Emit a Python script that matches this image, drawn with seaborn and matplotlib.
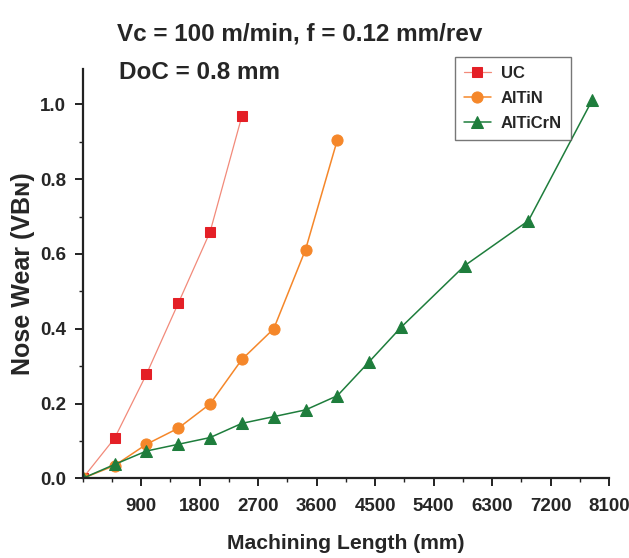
import matplotlib
matplotlib.use("Agg")
import matplotlib.pyplot as plt
import seaborn as sns
from matplotlib.ticker import MultipleLocator, AutoMinorLocator, FormatStrFormatter

# machining length (mm) and nose wear values
uc_len = [0, 490, 980, 1470, 1960, 2450]
uc_wear = [0, 0.107, 0.278, 0.468, 0.659, 0.969]

altin_len = [0, 490, 980, 1470, 1960, 2450, 2940, 3430, 3920]
altin_wear = [0, 0.034, 0.091, 0.134, 0.199, 0.318, 0.400, 0.612, 0.906]

altcrn_len = [0, 490, 980, 1470, 1960, 2450, 2940, 3430, 3920, 4410, 4900, 5880, 6860, 7840]
altcrn_wear = [0, 0.037, 0.073, 0.091, 0.109, 0.147, 0.165, 0.183, 0.221,
               0.312, 0.404, 0.569, 0.689, 1.011]

x_ticks = [900, 1800, 2700, 3600, 4500, 5400, 6300, 7200, 8100]

sns.set_style("ticks")
fonts = ["Liberation Sans", "DejaVu Sans"]
plt.rcParams["font.family"] = fonts
plt.rcParams["font.weight"] = "bold"

fig = plt.figure(figsize=(6.29, 5.58), dpi=100)
ax = fig.add_axes([0.1315, 0.1428, 0.8367, 0.7330])

# UC: light red line, red square markers
sns.lineplot(x=uc_len, y=uc_wear, ax=ax, color="#f28a7a", lw=0.9,
             marker="s", markersize=6.5, markerfacecolor="#e41f26",
             markeredgecolor="#e41f26", label="UC")
sns.lineplot(x=altin_len, y=altin_wear, ax=ax, color="#f5872a", lw=1.1,
             marker="o", markersize=8, markerfacecolor="#f5872a",
             markeredgecolor="#f5872a", label="AlTiN")
sns.lineplot(x=altcrn_len, y=altcrn_wear, ax=ax, color="#1e7d3c", lw=1.1,
             marker="^", markersize=8, markerfacecolor="#1e7d3c",
             markeredgecolor="#1e7d3c", label="AlTiCrN")

ax.set_xlim(0, 8100)
ax.set_ylim(0, 1.094)
ax.set_xticks(x_ticks)
ax.xaxis.set_minor_locator(MultipleLocator(450))
ax.yaxis.set_major_locator(MultipleLocator(0.2))
ax.yaxis.set_minor_locator(AutoMinorLocator(2))
ax.yaxis.set_major_formatter(FormatStrFormatter("%.1f"))

for s in ["top", "right"]:
    ax.spines[s].set_visible(False)
for s in ["left", "bottom"]:
    ax.spines[s].set_linewidth(1.6)
    ax.spines[s].set_color("#222222")

ax.tick_params(axis="both", which="major", length=6, width=1.4,
               labelsize=13.5, pad=6, color="#222222")
ax.tick_params(axis="x", which="major", pad=8)
ax.tick_params(axis="both", which="minor", length=3, width=1.0, color="#222222")
for lab in ax.get_xticklabels() + ax.get_yticklabels():
    lab.set_fontweight("bold")

ax.set_xlabel("Machining Length (mm)", fontsize=15.2, fontweight="bold",
              labelpad=14)
ax.set_ylabel("Nose Wear (VB\u0274)", fontsize=18, fontweight="bold",
              labelpad=3.5)

fig.text(0.186, 0.928, "Vc = 100 m/min, f = 0.12 mm/rev", fontsize=17.5,
         fontweight="bold", va="baseline", ha="left")
fig.text(0.189, 0.858, "DoC = 0.8 mm", fontsize=17.5,
         fontweight="bold", va="baseline", ha="left")

leg = ax.legend(loc="upper left", bbox_to_anchor=(0.707, 1.03),
                borderaxespad=0, frameon=True, fancybox=False,
                edgecolor="#555555", prop={"size": 12, "weight": "bold"},
                handlelength=1.6, borderpad=0.55, labelspacing=0.6,
                handletextpad=0.6)
leg.get_frame().set_linewidth(1.0)

fig.savefig("out.png", dpi=100)
